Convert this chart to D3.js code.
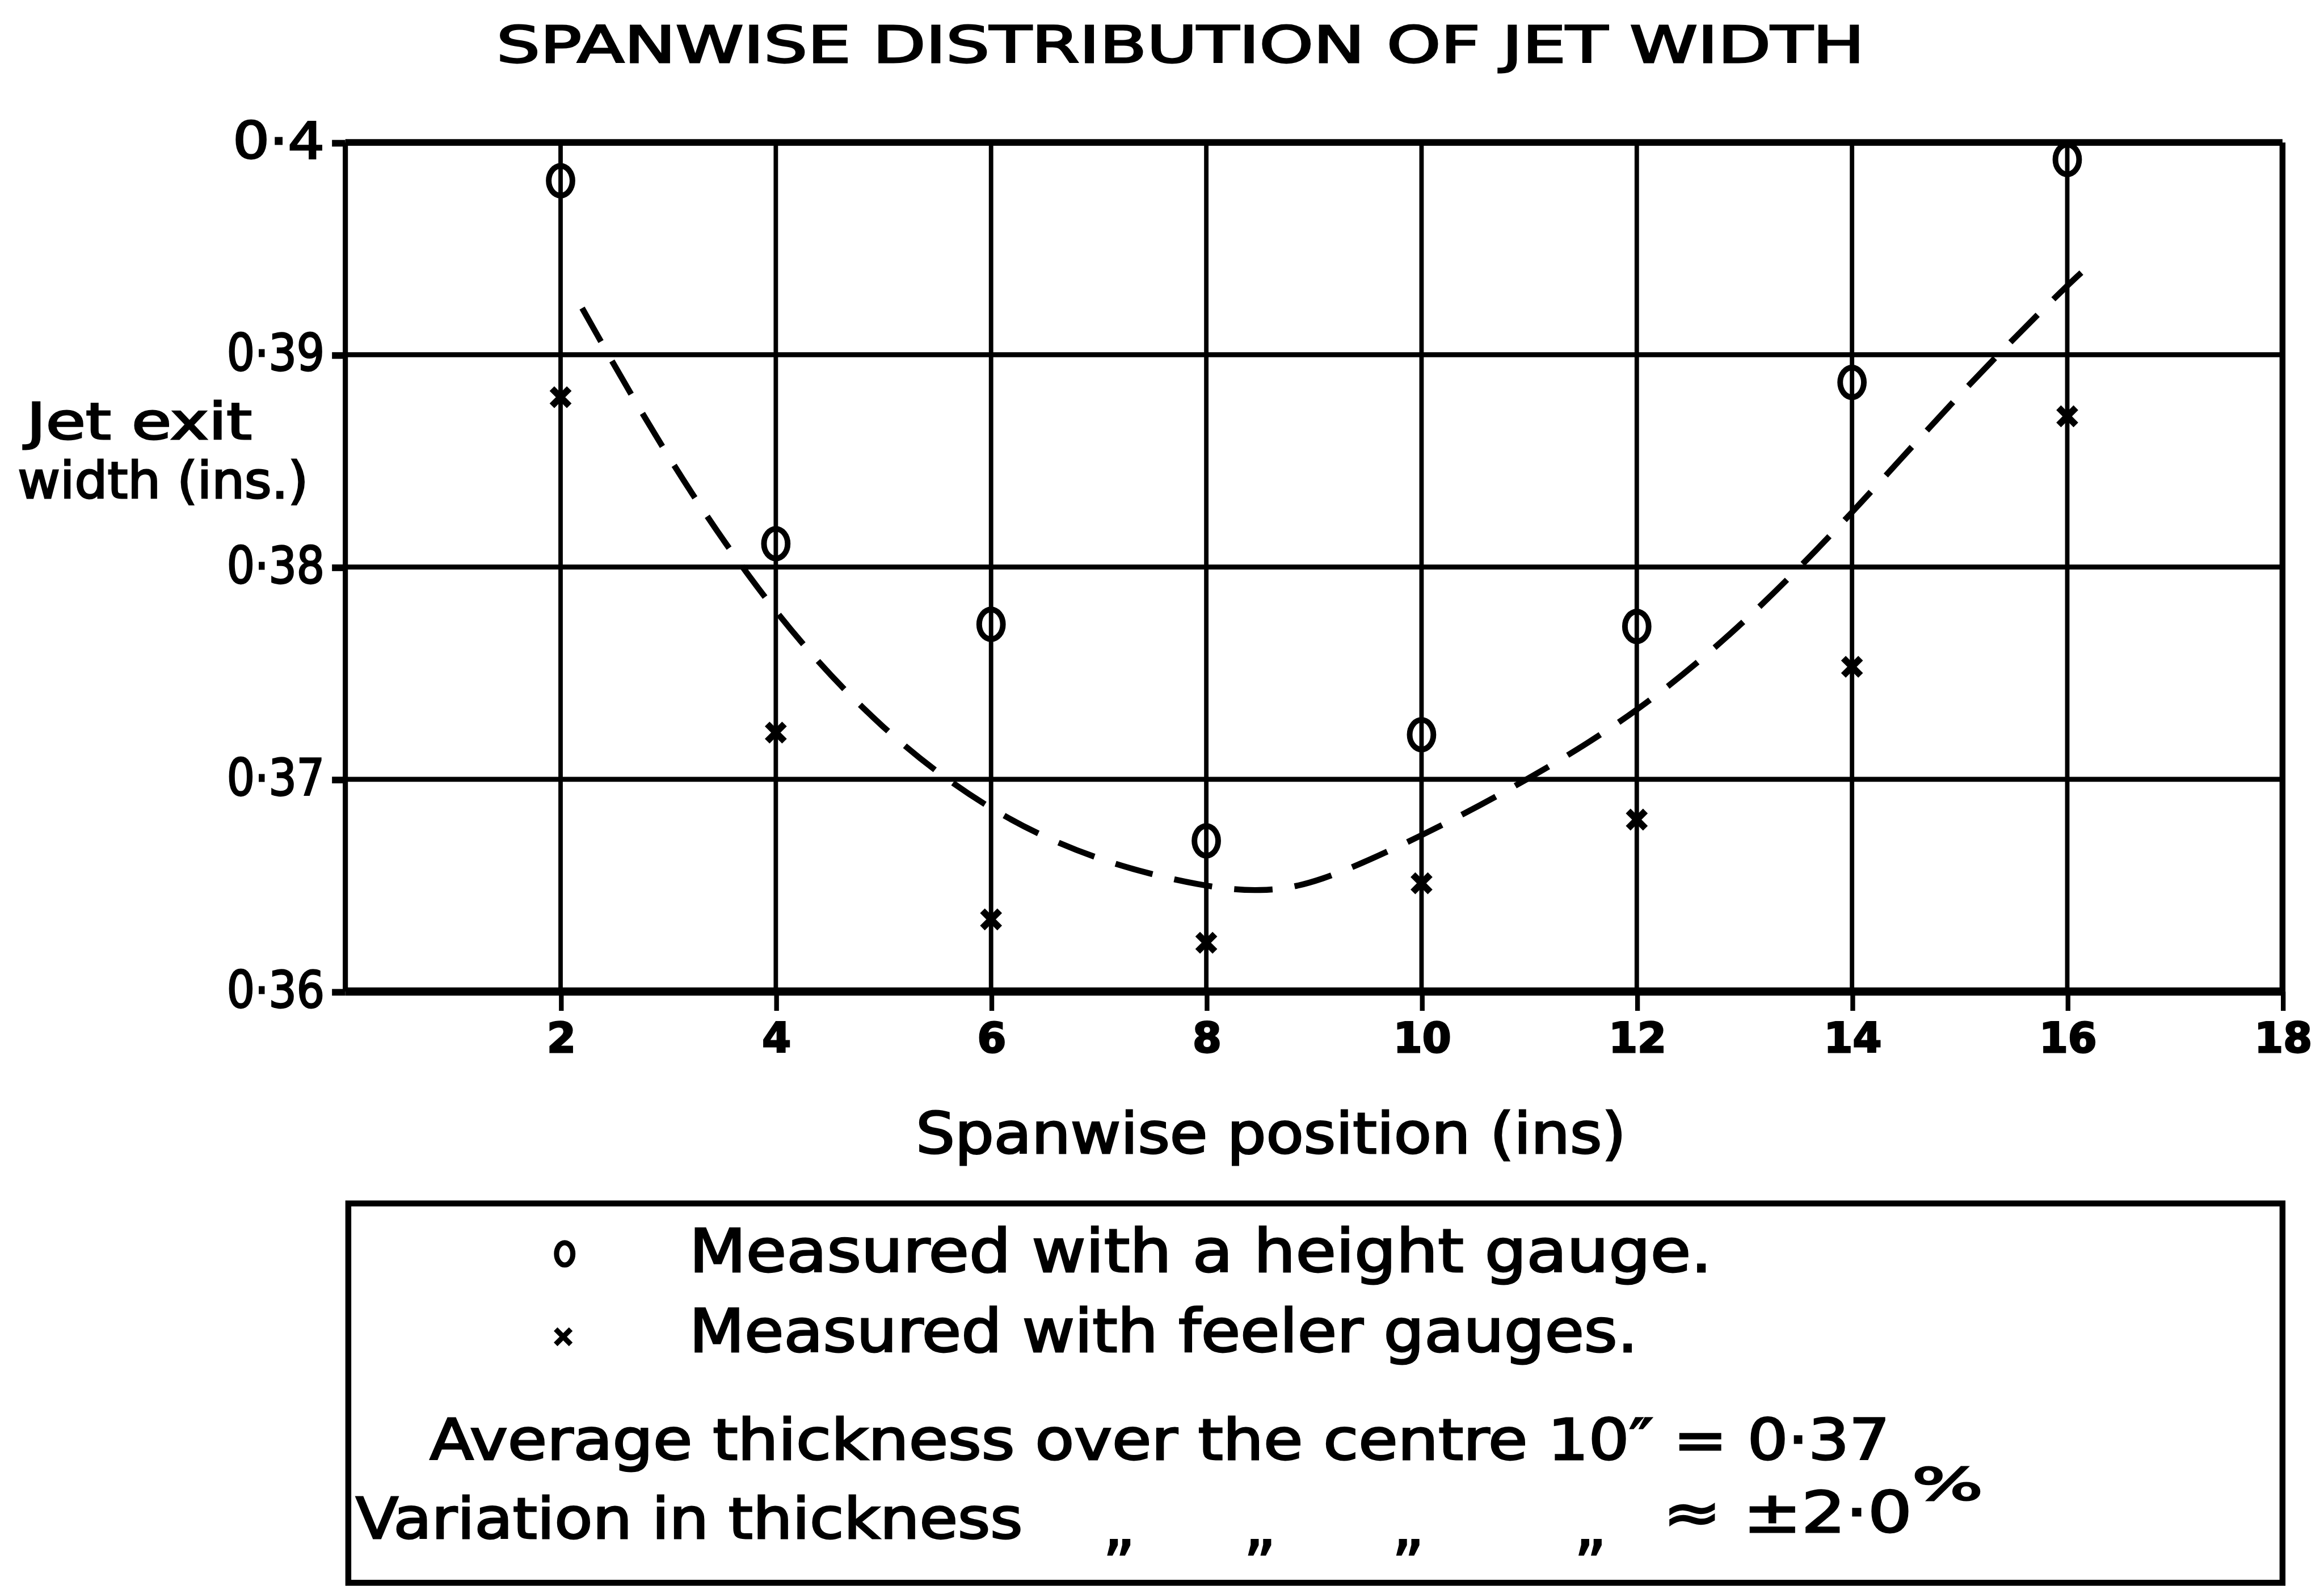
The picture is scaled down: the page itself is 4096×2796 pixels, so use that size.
<!DOCTYPE html>
<html>
<head>
<meta charset="utf-8">
<script src="https://cdn.jsdelivr.net/npm/d3@7"></script>
<style>
  html, body { margin: 0; padding: 0; background: #fff; }
  svg { display: block; }
  text { font-family: "DejaVu Sans", sans-serif; fill: #000; stroke: #000; stroke-width: 1.1; }
</style>
</head>
<body>
<div class="chart"></div>
<script>
// spanwise stations (ins)
const positions = [2, 4, 6, 8, 10, 12, 14, 16];
// jet exit width, measured with a height gauge (o)
const heightGauge = [0.3982, 0.3811, 0.3773, 0.3671, 0.3721, 0.3772, 0.3887, 0.3992];
// jet exit width, measured with feeler gauges (x)
const feelerGauge = [0.3880, 0.3722, 0.3634, 0.3623, 0.3651, 0.3681, 0.3753, 0.3871];
// hand-drawn dashed mean curve
const fitX = [2.2, 3, 4, 5, 6, 7, 8, 8.5, 9, 10, 11, 12, 13, 14, 15, 16, 16.25];
const fitY = [0.3922, 0.3850, 0.3776, 0.3722, 0.3684, 0.3661, 0.3649, 0.3647, 0.3650, 0.3673, 0.3700, 0.3731, 0.3773, 0.3825, 0.3882, 0.3933, 0.3944];

const xTicks = [2, 4, 6, 8, 10, 12, 14, 16, 18];
const yTicks = [0.4, 0.39, 0.38, 0.37, 0.36];
const yTickLabels = ["0·4", "0·39", "0·38", "0·37", "0·36"];

// work in the units of the 1568 wide preview, scale up with viewBox
const W = 1568, H = 1070;
const svg = d3.select(".chart").append("svg")
  .attr("width", 4096)
  .attr("height", 2796)
  .attr("viewBox", [0, 0, W, H]);

const x = d3.scaleLinear().domain([0, 18]).range([233, 1540]);
const y = d3.scaleLinear().domain([0.36, 0.4]).range([669, 96]);

// grid
const grid = svg.append("g").attr("stroke", "#000").attr("fill", "none");
grid.selectAll(".vg")
  .data(xTicks.slice(0, -1))
  .join("line")
  .attr("x1", d => x(d)).attr("x2", d => x(d))
  .attr("y1", y(0.4)).attr("y2", y(0.36))
  .attr("stroke-width", 3);
grid.selectAll(".hg")
  .data(yTicks.slice(1, -1))
  .join("line")
  .attr("x1", x(0)).attr("x2", x(18))
  .attr("y1", d => y(d)).attr("y2", d => y(d))
  .attr("stroke-width", 3.4);

// frame
grid.append("line").attr("x1", x(0)).attr("x2", x(18)).attr("y1", y(0.4)).attr("y2", y(0.4)).attr("stroke-width", 4.5);
grid.append("line").attr("x1", x(0)).attr("x2", x(18)).attr("y1", y(0.36)).attr("y2", y(0.36)).attr("stroke-width", 5.5);
grid.append("line").attr("x1", x(0)).attr("x2", x(0)).attr("y1", y(0.4)).attr("y2", y(0.36)).attr("stroke-width", 3.5);
grid.append("line").attr("x1", x(18)).attr("x2", x(18)).attr("y1", y(0.4)).attr("y2", y(0.36)).attr("stroke-width", 4);

// axes
const xAxis = svg.append("g")
  .attr("transform", `translate(0,${y(0.36)})`)
  .call(d3.axisBottom(x).tickValues(xTicks).tickFormat(d3.format("d")).tickSize(13).tickPadding(8));
xAxis.select(".domain").remove();
xAxis.selectAll("line").attr("stroke", "#000").attr("stroke-width", 3.2);
xAxis.selectAll("text").attr("font-size", 28).attr("font-weight", "bold").attr("stroke-width", 0.6);

const yAxis = svg.append("g")
  .attr("transform", `translate(${x(0)},0)`)
  .call(d3.axisLeft(y).tickValues(yTicks).tickFormat((d, i) => yTickLabels[i]).tickSize(9).tickPadding(5));
yAxis.select(".domain").remove();
yAxis.selectAll("line").attr("stroke", "#000").attr("stroke-width", 4.5);
yAxis.selectAll("text").attr("font-size", 34).attr("dy", "0.3em").attr("textLength", 66).attr("lengthAdjust", "spacingAndGlyphs");
yAxis.selectAll(".tick").filter(d => d === 0.4).select("text").attr("textLength", 62);

// dashed curve
const fit = fitX.map((d, i) => [d, fitY[i]]);
svg.append("path")
  .datum(fit)
  .attr("fill", "none")
  .attr("stroke", "#000")
  .attr("stroke-width", 4)
  .attr("stroke-dasharray", "26,15")
  .attr("d", d3.line().x(d => x(d[0])).y(d => y(d[1])).curve(d3.curveBasis));

// height gauge: circles
svg.append("g").selectAll("ellipse")
  .data(positions)
  .join("ellipse")
  .attr("cx", d => x(d))
  .attr("cy", (d, i) => y(heightGauge[i]))
  .attr("rx", 8)
  .attr("ry", 10)
  .attr("fill", "none")
  .attr("stroke", "#000")
  .attr("stroke-width", 3.8);

// feeler gauges: crosses
svg.append("g").selectAll("path")
  .data(positions)
  .join("path")
  .attr("transform", (d, i) => `translate(${x(d)},${y(feelerGauge[i])})`)
  .attr("d", d3.symbol().type(d3.symbolX).size(90))
  .attr("fill", "none")
  .attr("stroke", "#000")
  .attr("stroke-width", 4.5);

// titles
svg.append("text")
  .attr("x", 335).attr("y", 42)
  .attr("font-size", 34)
  .attr("textLength", 923).attr("lengthAdjust", "spacingAndGlyphs")
  .text("SPANWISE  DISTRIBUTION  OF  JET  WIDTH");

svg.append("text")
  .attr("x", 618).attr("y", 778)
  .attr("font-size", 38)
  .attr("textLength", 479).attr("lengthAdjust", "spacingAndGlyphs")
  .text("Spanwise  position  (ins)");

svg.append("text")
  .attr("x", 18).attr("y", 296)
  .attr("font-size", 34)
  .attr("textLength", 152).attr("lengthAdjust", "spacingAndGlyphs")
  .text("Jet exit");
svg.append("text")
  .attr("x", 12).attr("y", 336)
  .attr("font-size", 34)
  .attr("textLength", 196).attr("lengthAdjust", "spacingAndGlyphs")
  .text("width (ins.)");

// legend box
const lg = svg.append("g");
lg.append("rect")
  .attr("x", 235).attr("y", 812)
  .attr("width", 1305).attr("height", 256)
  .attr("fill", "none").attr("stroke", "#000").attr("stroke-width", 4);

lg.append("ellipse")
  .attr("cx", 381).attr("cy", 846).attr("rx", 5.5).attr("ry", 7.5)
  .attr("fill", "none").attr("stroke", "#000").attr("stroke-width", 3.5);
lg.append("path")
  .attr("transform", "translate(380,902)")
  .attr("d", d3.symbol().type(d3.symbolX).size(70))
  .attr("fill", "none").attr("stroke", "#000").attr("stroke-width", 3.5);

const legendText = [
  {x: 465, y: 858, w: 690, size: 40, t: "Measured  with a height gauge."},
  {x: 465, y: 912, w: 640, size: 40, t: "Measured  with feeler gauges."},
  {x: 290, y: 985, w: 985, size: 38, t: "Average  thickness  over the  centre  10″  =  0·37"},
  {x: 240, y: 1038, w: 450, size: 38, t: "Variation  in  thickness"}
];
lg.selectAll(".lt")
  .data(legendText)
  .join("text")
  .attr("x", d => d.x).attr("y", d => d.y)
  .attr("font-size", d => d.size)
  .attr("textLength", d => d.w).attr("lengthAdjust", "spacingAndGlyphs")
  .text(d => d.t);

lg.selectAll(".ditto")
  .data([755, 850, 950, 1073])
  .join("text")
  .attr("x", d => d).attr("y", 1044)
  .attr("font-size", 42).attr("text-anchor", "middle")
  .text("„");
lg.append("text")
  .attr("x", 1122).attr("y", 1034)
  .attr("font-size", 38)
  .attr("textLength", 168).attr("lengthAdjust", "spacingAndGlyphs")
  .text("≈ ±2·0");
lg.append("text")
  .attr("x", 1290).attr("y", 1012)
  .attr("font-size", 30)
  .attr("textLength", 48).attr("lengthAdjust", "spacingAndGlyphs")
  .text("%");
</script>
</body>
</html>
